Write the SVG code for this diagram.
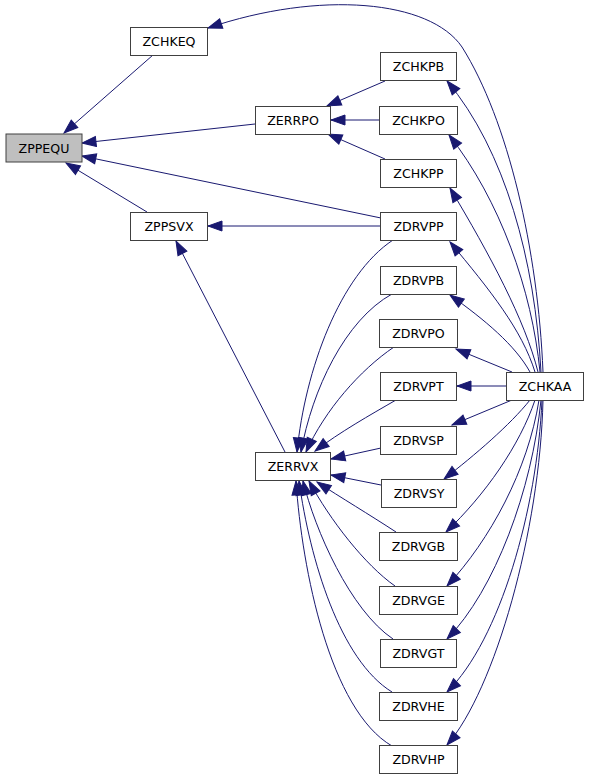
<svg xmlns="http://www.w3.org/2000/svg" width="589" height="780" viewBox="0 0 589 780">
<style>
.n rect{fill:#ffffff;stroke:#404040;stroke-width:1}
#ZPPEQU rect{fill:#bfbfbf}
.n text{font-family:"DejaVu Sans","Liberation Sans",sans-serif;font-size:12.6px;fill:#000;text-anchor:middle}
#edges path{fill:none;stroke:#191970;stroke-width:1;marker-end:url(#a)}
</style>
<defs>
<marker id="a" markerUnits="userSpaceOnUse" markerWidth="16" markerHeight="12" refX="14" refY="5" orient="auto" overflow="visible">
<path d="M0,0 L14,5 L0,10 z" fill="#191970" stroke="#191970" stroke-width="1"/>
</marker>
</defs>
<rect width="589" height="780" fill="#ffffff"/>
<g id="edges">
<path d="M153,55 L64,133"/>
<path d="M255,124 L82,143"/>
<path d="M381,218 L82,156"/>
<path d="M147,212 L66,163"/>
<path d="M543,372 C538,250 508,120 462,47 C430,0 320,-10 208,28"/>
<path d="M385,81 L327,106"/>
<path d="M379,120 L331,120"/>
<path d="M385,159 L328,134"/>
<path d="M381,226 L208,226"/>
<path d="M285,452 L176,241"/>
<path d="M393,240 C340,275 305,370 297,452"/>
<path d="M392,294 C345,320 312,390 301,452"/>
<path d="M394,347 C360,370 325,410 306,452"/>
<path d="M396,400 C370,415 340,432 315,451"/>
<path d="M381,448 L331,459"/>
<path d="M381,485 L331,475"/>
<path d="M396,532 C370,515 340,497 317,482"/>
<path d="M395,586 C365,565 330,520 309,481"/>
<path d="M393,639 C350,610 315,530 303,481"/>
<path d="M392,692 C340,660 310,560 299,481"/>
<path d="M392,746 C330,710 302,570 296,481"/>
<path d="M541,372 C535,260 505,150 447,81"/>
<path d="M540,372 C532,290 500,200 449,135"/>
<path d="M538,372 C525,320 490,255 450,188"/>
<path d="M535,372 C522,330 490,290 450,242"/>
<path d="M530,372 C515,345 485,320 450,295"/>
<path d="M512,372 L456,349"/>
<path d="M507,386 L457,386"/>
<path d="M512,400 L452,425"/>
<path d="M530,400 C510,425 475,455 444,479"/>
<path d="M535,400 C520,445 485,495 446,532"/>
<path d="M539,400 C528,470 490,540 447,586"/>
<path d="M541,400 C532,490 495,590 447,639"/>
<path d="M542,400 C537,510 500,640 447,692"/>
<path d="M543,400 C540,530 495,690 447,745"/>
</g>
<g id="ZPPEQU" class="n"><rect x="6" y="134" width="76" height="28"/><text x="44" y="152.5">ZPPEQU</text></g>
<g id="ZCHKEQ" class="n"><rect x="130.5" y="27.5" width="77" height="28"/><text x="169" y="46">ZCHKEQ</text></g>
<g id="ZPPSVX" class="n"><rect x="130.5" y="212.5" width="77" height="28"/><text x="169" y="231">ZPPSVX</text></g>
<g id="ZERRPO" class="n"><rect x="255.5" y="106.5" width="75" height="28"/><text x="293" y="125">ZERRPO</text></g>
<g id="ZCHKPB" class="n"><rect x="380.5" y="52.5" width="76" height="28"/><text x="418.5" y="71">ZCHKPB</text></g>
<g id="ZCHKPO" class="n"><rect x="379.5" y="106.5" width="78" height="28"/><text x="418.5" y="125">ZCHKPO</text></g>
<g id="ZCHKPP" class="n"><rect x="380.5" y="159.5" width="76" height="28"/><text x="418.5" y="178">ZCHKPP</text></g>
<g id="ZDRVPP" class="n"><rect x="380.5" y="212.5" width="76" height="28"/><text x="418.5" y="231">ZDRVPP</text></g>
<g id="ZDRVPB" class="n"><rect x="380.5" y="266.5" width="76" height="28"/><text x="418.5" y="285">ZDRVPB</text></g>
<g id="ZDRVPO" class="n"><rect x="379.5" y="319.5" width="78" height="28"/><text x="418.5" y="338">ZDRVPO</text></g>
<g id="ZDRVPT" class="n"><rect x="380.5" y="372.5" width="76" height="28"/><text x="418.5" y="391">ZDRVPT</text></g>
<g id="ZCHKAA" class="n"><rect x="506.5" y="372.5" width="77" height="28"/><text x="545" y="391">ZCHKAA</text></g>
<g id="ZDRVSP" class="n"><rect x="380.5" y="426.5" width="76" height="28"/><text x="418.5" y="445">ZDRVSP</text></g>
<g id="ZERRVX" class="n"><rect x="255.5" y="452.5" width="75" height="28"/><text x="293" y="471">ZERRVX</text></g>
<g id="ZDRVSY" class="n"><rect x="381.5" y="479.5" width="75" height="28"/><text x="419" y="498">ZDRVSY</text></g>
<g id="ZDRVGB" class="n"><rect x="379.5" y="532.5" width="78" height="28"/><text x="418.5" y="551">ZDRVGB</text></g>
<g id="ZDRVGE" class="n"><rect x="379.5" y="586.5" width="78" height="28"/><text x="418.5" y="605">ZDRVGE</text></g>
<g id="ZDRVGT" class="n"><rect x="380.5" y="639.5" width="76" height="28"/><text x="418.5" y="658">ZDRVGT</text></g>
<g id="ZDRVHE" class="n"><rect x="379.5" y="692.5" width="78" height="28"/><text x="418.5" y="711">ZDRVHE</text></g>
<g id="ZDRVHP" class="n"><rect x="379.5" y="745.5" width="78" height="28"/><text x="418.5" y="764">ZDRVHP</text></g>
</svg>
